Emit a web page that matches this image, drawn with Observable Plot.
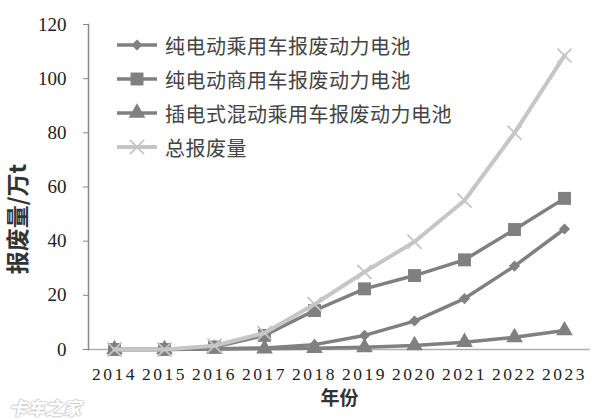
<!DOCTYPE html>
<html><head><meta charset="utf-8">
<script src="https://cdn.jsdelivr.net/npm/d3@7"></script>
<script src="https://cdn.jsdelivr.net/npm/@observablehq/plot@0.6"></script>
<style>
body{margin:0;background:#fff;}
#wrap{position:relative;width:600px;height:420px;overflow:hidden;}
#legend{position:absolute;left:115px;top:28px;font-family:"Noto Sans CJK SC";font-size:20px;color:#444;}
.row{display:flex;align-items:center;height:34px;white-space:nowrap;}
.row span{margin-left:4px;letter-spacing:0.5px;}
#wm{position:absolute;left:9px;top:398px;line-height:1;font-family:"Noto Sans CJK SC";font-weight:900;font-size:18px;color:#fff;text-shadow:0 0 2px #aaa,0 0 1px #888;font-style:italic;}
</style></head><body><div id="wrap"><div id="legend"></div><div id="wm">卡车之家</div></div>
<script>
const years = ["2014","2015","2016","2017","2018","2019","2020","2021","2022","2023"];
const seriesNames = ["纯电动乘用车报废动力电池","纯电动商用车报废动力电池","插电式混动乘用车报废动力电池","总报废量"];
const bevPassenger = [0, 0, 0.3, 0.6, 1.8, 5.2, 10.5, 18.8, 30.8, 44.5];
const bevCommercial = [0, 0, 0.9, 5.2, 14.4, 22.4, 27.3, 33.1, 44.3, 55.8];
const phevPassenger = [0, 0, 0.2, 0.3, 0.5, 0.8, 1.5, 2.7, 4.5, 7.0];
const totalScrap = [0, 0, 1.4, 6.1, 16.7, 28.6, 39.8, 55.0, 80.0, 108.5];
const yTicks = [0, 20, 40, 60, 80, 100, 120];
const xTitle = "年份";
const yTitle = "报废量/万t";

const dark = "#808080", light = "#c6c6c6";
const series = [
  {name: seriesNames[2], values: phevPassenger, color: dark, symbol: "triangle", r: 6.2, stroke: false, width: 3.5},
  {name: seriesNames[0], values: bevPassenger, color: dark, symbol: "diamond2", r: 5, stroke: false, width: 3.5},
  {name: seriesNames[1], values: bevCommercial, color: dark, symbol: "square", r: 7.3, stroke: false, width: 3.5},
  {name: seriesNames[3], values: totalScrap, color: light, symbol: "times", r: 6.5, stroke: true, width: 4}
];
const tables = series.map(s => years.map((y, i) => ({year: y, value: s.values[i]})));

const marks = [
  Plot.ruleY([0], {stroke: "#b0b0b0", strokeWidth: 1.5}),
  Plot.frame({anchor: "left", stroke: "#888", strokeWidth: 1.5}),
  Plot.axisY({ticks: yTicks, tickSize: 5, tickPadding: 17, fontSize: 19, fontFamily: "Liberation Serif", label: null, stroke: "#888", color: "#222"}),
  Plot.axisX({tickSize: 0, tickPadding: 18, fontSize: 17.5, fontFamily: "Liberation Serif", label: null, color: "#222"}),
  Plot.text([xTitle], {frameAnchor: "bottom", dy: 55, fontSize: 19, fontWeight: "bold", fontFamily: "Noto Sans CJK SC", fill: "#333"}),
  Plot.text([yTitle], {frameAnchor: "left", textAnchor: "middle", dx: -70, dy: 32, rotate: -90, fontSize: 23, fontWeight: "bold", fontFamily: "Noto Sans CJK SC", fill: "#333"})
];
series.forEach((s, k) => {
  marks.push(Plot.line(tables[k], {x: "year", y: "value", stroke: s.color, strokeWidth: s.width}));
  marks.push(Plot.dot(tables[k], s.stroke
    ? {x: "year", y: "value", symbol: () => s.symbol, r: s.r, stroke: s.color, strokeWidth: 1.8}
    : {x: "year", y: "value", symbol: () => s.symbol, r: s.r, fill: s.color}));
});

const chart = Plot.plot({
  width: 600, height: 420,
  marginLeft: 88, marginRight: 10, marginTop: 24, marginBottom: 71,
  style: {background: "#fff", fontFamily: "Liberation Serif"},
  x: {type: "point", domain: years, padding: 0.5, axis: null},
  y: {domain: [0, 120], axis: null},
  symbol: {type: "identity"},
  marks
});
document.getElementById("wrap").prepend(chart);
d3.select(chart).selectAll('g[aria-label="x-axis tick label"] text').style("letter-spacing", "2.5px");

// legend (in original order)
const legendOrder = [1, 2, 0, 3];
const leg = d3.select("#legend");
legendOrder.forEach(k => {
  const s = series[k];
  const row = leg.append("div").attr("class", "row");
  const svg = row.append("svg").attr("width", 46).attr("height", 20);
  svg.append("line").attr("x1", 2).attr("x2", 42).attr("y1", 10).attr("y2", 10)
    .attr("stroke", s.color).attr("stroke-width", s.width);
  const symMap = {triangle: d3.symbolTriangle, diamond2: d3.symbolDiamond2, square: d3.symbolSquare, times: d3.symbolTimes};
  const p = svg.append("path").attr("transform", "translate(22,10)")
    .attr("d", d3.symbol(symMap[s.symbol], Math.PI * s.r * s.r)());
  if (s.stroke) p.attr("fill", "none").attr("stroke", s.color).attr("stroke-width", 1.8);
  else p.attr("fill", s.color);
  row.append("span").text(s.name);
});
</script>
</body></html>
